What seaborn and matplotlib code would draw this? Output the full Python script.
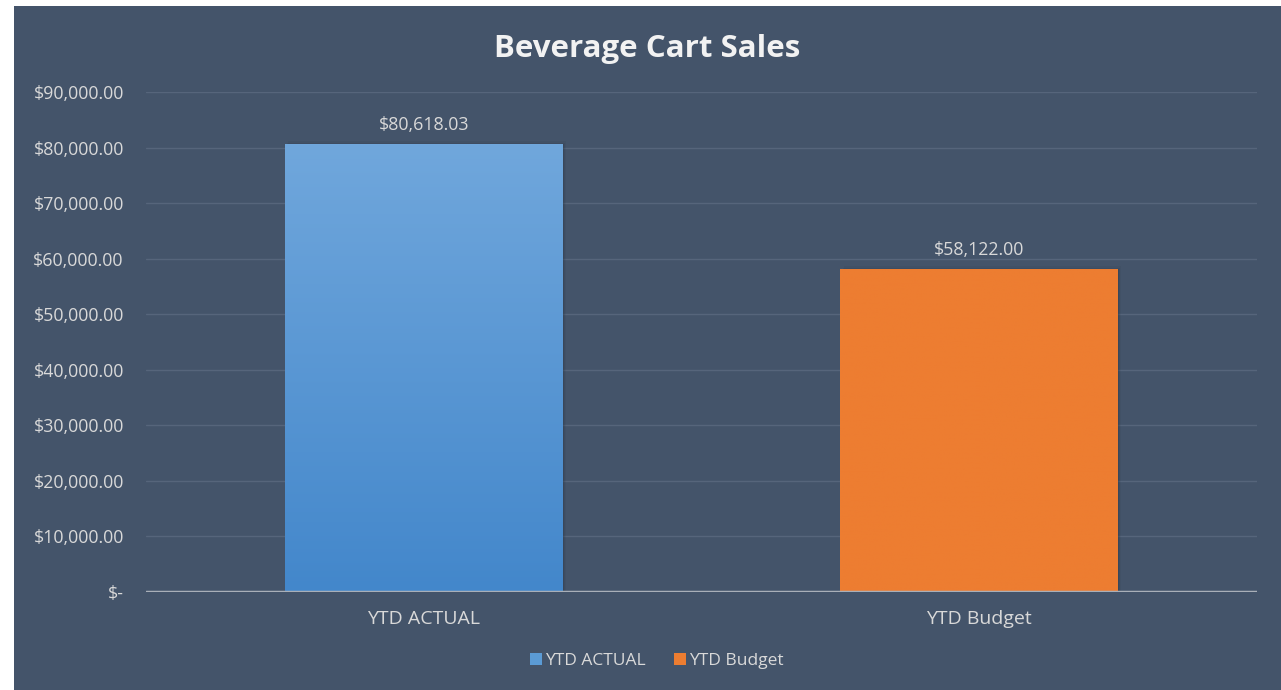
import numpy as np
import pandas as pd
import matplotlib
matplotlib.use("Agg")
import matplotlib.pyplot as plt
import matplotlib.patches as mpatches
from matplotlib.colors import LinearSegmentedColormap
from matplotlib.ticker import FuncFormatter
import seaborn as sns

#? Data
categories = ["YTD ACTUAL", "YTD Budget"]
values = [80618.03, 58122.00]
value_labels = ["$80,618.03", "$58,122.00"]
y_ticks = [0, 10000, 20000, 30000, 40000, 50000, 60000, 70000, 80000, 90000]

bg = "#44546A"
txt = "#D9D9D9"
bar_top = ["#70A7DC", "#ED7D31"]
bar_bottom = ["#4387CB", "#ED7D31"]

sns.set_theme(style="white")
plt.rcParams["font.family"] = ["Open Sans", "DejaVu Sans"]

df = pd.DataFrame({"cat": categories, "val": values})

fig = plt.figure(figsize=(12.81, 6.90), dpi=100, facecolor="white")
# dark chart panel (white strip on the left and top like the reference)
panel = fig.add_axes([14 / 1281, 0, 1 - 14 / 1281, 1 - 6 / 690], zorder=-1)
panel.set_facecolor(bg)
panel.set_axis_off()
panel.add_patch(mpatches.Rectangle((0, 0), 1, 1, transform=panel.transAxes,
                                   facecolor=bg, edgecolor="none"))

ax = fig.add_axes([146 / 1281, 1 - 592 / 690, (1257 - 146) / 1281, 500 / 690])
ax.set_facecolor("none")

sns.barplot(data=df, x="cat", y="val", hue="cat", palette=bar_top, width=0.5,
            legend=False, ax=ax, zorder=3, saturation=1, linewidth=0,
            edgecolor="none")

ax.set_ylim(0, 90000)
ax.set_xlim(-0.5, 1.5)
ax.set_yticks(y_ticks)
ax.yaxis.set_major_formatter(FuncFormatter(
    lambda v, p: "$-" if v == 0 else f"${v:,.2f}"))
ax.tick_params(axis="y", colors=txt, labelsize=12.8, length=0, pad=16)
ax.tick_params(axis="x", colors=txt, labelsize=14, length=0, pad=13)
ax.set_xlabel("")
ax.set_ylabel("")
ax.grid(axis="y", color="#56657B", linewidth=1, zorder=0)
for s in ax.spines.values():
    s.set_visible(False)
ax.axhline(0, color="#A9AFB8", linewidth=2.5, zorder=4)

# gradient fill + soft shadow on the bars
for i, patch in enumerate(list(ax.patches)):
    x0, y0 = patch.get_x(), patch.get_y()
    w, h = patch.get_width(), patch.get_height()
    for k, a in enumerate([0.25, 0.18, 0.1]):
        shadow = mpatches.Rectangle((x0 + 0.002 * (k + 1), y0), w, h + 250 * k,
                                    facecolor="#2E3A4A", alpha=a,
                                    edgecolor="none", zorder=2)
        ax.add_patch(shadow)
    cmap = LinearSegmentedColormap.from_list("g", [bar_bottom[i], bar_top[i]])
    grad = np.linspace(0, 1, 256).reshape(-1, 1)
    im = ax.imshow(grad, extent=[x0, x0 + w, y0, y0 + h], origin="lower",
                   aspect="auto", cmap=cmap, zorder=3.5)
    im.set_clip_path(patch)
    ax.text(x0 + w / 2, h + 1800, value_labels[i], ha="center", va="bottom",
            color=txt, fontsize=12.8)

ax.set_xlim(-0.5, 1.5)
ax.set_ylim(0, 90000)

fig.text(647 / 1281, 1 - 49 / 690, "Beverage Cart Sales", ha="center",
         va="center", color="#F2F2F2", fontsize=22.5, fontweight="bold")

handles = [mpatches.Patch(facecolor=c, edgecolor="none") for c in ["#5B9BD5", "#ED7D31"]]
fig.legend(handles, categories, loc="center", bbox_to_anchor=(657 / 1281, 1 - 661 / 690),
           ncol=2, frameon=False, fontsize=12.5, labelcolor=txt, handlelength=0.7,
           handleheight=0.7, handletextpad=0.2, columnspacing=1.6)

fig.savefig("out.png", dpi=100, facecolor="white")
